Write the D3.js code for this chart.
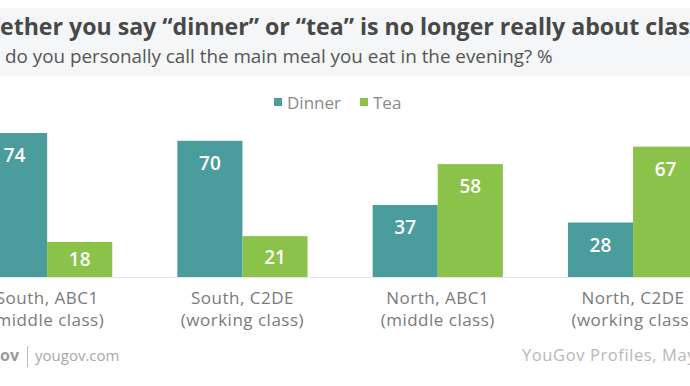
<!DOCTYPE html>
<html>
<head>
<meta charset="utf-8">
<script src="https://cdn.jsdelivr.net/npm/d3@7"></script>
<style>
  html, body { margin: 0; padding: 0; background: #fff; overflow: hidden; }
  svg { display: block; }
  text { font-family: "Open Sans", "Lato", sans-serif; }
</style>
</head>
<body>
<script>
// data
var groups = ["South, ABC1", "South, C2DE", "North, ABC1", "North, C2DE"]
var groupSub = ["(middle class)", "(working class)", "(middle class)", "(working class)"]
var seriesNames = ["Dinner", "Tea"]
var dinner = [74, 70, 37, 28]
var tea = [18, 21, 58, 67]

var colors = {Dinner: "#4a9d9c", Tea: "#8bc34a"}

var width = 690, height = 386

var svg = d3.select("body").append("svg")
  .attr("width", width)
  .attr("height", height)

// header band
svg.append("rect")
  .attr("x", 0).attr("y", 8)
  .attr("width", width).attr("height", 68)
  .attr("fill", "#f5f6f7")

// the chart is cropped: the first `hidden` chars sit left of the page and
// the chars from `hidden` to `upto` cover `span` px from xStart
function cutText(str, hidden, upto, xStart, span, y, size, weight, fill) {
  var t = svg.append("text")
    .attr("y", y)
    .attr("font-size", size)
    .attr("font-weight", weight)
    .attr("fill", fill)
    .text(str)
  var n = t.node()
  var vis = n.getSubStringLength(hidden, upto - hidden)
  var s = size * span / vis
  var pre = n.getSubStringLength(0, hidden) * s / size
  t.attr("font-size", s).attr("x", xStart - pre)
  return t
}

var title = "Whether you say \u201cdinner\u201d or \u201ctea\u201d is no longer really about class"
cutText(title, 2, title.length - 1, 0, 690, 35, 24, 700, "#484848")

var sub = "What do you personally call the main meal you eat in the evening? %"
cutText(sub, 5, sub.length, 5, 548, 63, 18, 400, "#555")

// scales
var x0 = d3.scaleBand()
  .domain(groups)
  .range([-50.5, 730.7])
  .paddingInner(1 / 3)
  .paddingOuter(1 / 6)

var x1 = d3.scaleBand()
  .domain(seriesNames)
  .range([0, x0.bandwidth()])

var y = d3.scaleLinear()
  .domain([0, 100])
  .range([277, 82.4])

var rows = groups.map(function(g, i) {
  return {group: g, sub: groupSub[i], values: [
    {key: "Dinner", value: dinner[i]},
    {key: "Tea", value: tea[i]}
  ]}
})

// baseline
svg.append("line")
  .attr("x1", 0).attr("x2", width)
  .attr("y1", y(0) + 0.5).attr("y2", y(0) + 0.5)
  .attr("stroke", "#e6e6e6")

var g = svg.selectAll("g.group")
  .data(rows)
  .enter().append("g")
  .attr("class", "group")
  .attr("transform", function(d) { return "translate(" + x0(d.group) + ",0)" })

g.selectAll("rect")
  .data(function(d) { return d.values })
  .enter().append("rect")
  .attr("x", function(d) { return x1(d.key) })
  .attr("y", function(d) { return y(d.value) })
  .attr("width", x1.bandwidth())
  .attr("height", function(d) { return y(0) - y(d.value) })
  .attr("fill", function(d) { return colors[d.key] })

g.selectAll("text.val")
  .data(function(d) { return d.values })
  .enter().append("text")
  .attr("class", "val")
  .attr("x", function(d) { return x1(d.key) + x1.bandwidth() / 2 })
  .attr("y", function(d) {
    var top = y(d.value)
    return Math.min(top + 29, (top + y(0)) / 2 + 7)
  })
  .attr("text-anchor", "middle")
  .attr("font-size", 19)
  .attr("font-weight", 600)
  .attr("fill", "#fff")
  .text(function(d) { return d.value })

// category labels
g.append("text")
  .attr("x", x0.bandwidth() / 2)
  .attr("y", 304)
  .attr("text-anchor", "middle")
  .attr("font-size", 17)
  .attr("letter-spacing", 0.5)
  .attr("fill", "#7a7a7a")
  .text(function(d) { return d.group })

g.append("text")
  .attr("x", x0.bandwidth() / 2)
  .attr("y", 326)
  .attr("text-anchor", "middle")
  .attr("font-size", 17)
  .attr("letter-spacing", 0.5)
  .attr("fill", "#7a7a7a")
  .text(function(d) { return d.sub })

// legend
var legX = [274, 360]
var leg = svg.selectAll("g.legend")
  .data(seriesNames)
  .enter().append("g")
  .attr("class", "legend")
  .attr("transform", function(d, i) { return "translate(" + legX[i] + ",98)" })

leg.append("rect")
  .attr("width", 8).attr("height", 8)
  .attr("fill", function(d) { return colors[d] })

leg.append("text")
  .attr("x", 13).attr("y", 11)
  .attr("font-size", 17)
  .attr("fill", "#8a8a8a")
  .text(function(d) { return d })

// footer
svg.append("text")
  .attr("x", 19).attr("y", 361)
  .attr("text-anchor", "end")
  .attr("font-size", 16)
  .attr("font-weight", 700)
  .attr("fill", "#9a9a9a")
  .text("YouGov")

svg.append("line")
  .attr("x1", 27.5).attr("x2", 27.5)
  .attr("y1", 346).attr("y2", 367)
  .attr("stroke", "#bbb")

svg.append("text")
  .attr("x", 35).attr("y", 361)
  .attr("font-size", 15)
  .attr("fill", "#a8a8a8")
  .text("yougov.com")

svg.append("text")
  .attr("x", 522).attr("y", 361)
  .attr("font-size", 16.5)
  .attr("letter-spacing", 0.6)
  .attr("fill", "#b8b8b8")
  .text("YouGov Profiles, May 2017")
</script>
</body>
</html>
